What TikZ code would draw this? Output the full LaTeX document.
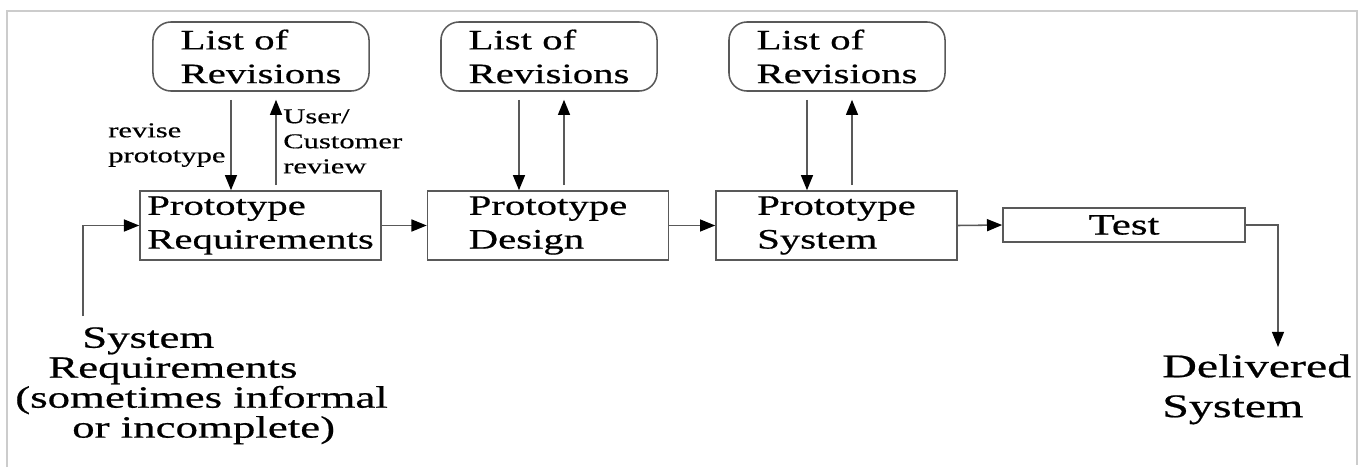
\documentclass[tikz,border=0pt]{standalone}
\usepackage{fontspec}
\setmainfont[FakeStretch=1.45, FakeBold=0.6]{Liberation Serif}
\usetikzlibrary{arrows.meta,calc}
\tikzset{
  revbox/.style ={draw=black!65, line width=1.1pt, rounded corners=0.45cm,
                  minimum width=5.4cm, minimum height=1.725cm, inner sep=0pt,
                  align=left, font=\fontsize{20}{24}\selectfont,
                  execute at begin node={\rule{0pt}{19pt}}},
  stepbox/.style={draw=black!65, line width=1.1pt,
                  minimum width=6.025cm, minimum height=1.725cm, inner sep=0pt,
                  align=left, font=\fontsize{20}{24}\selectfont,
                  execute at begin node={\rule{0pt}{17pt}}},
  testbox/.style={draw=black!65, line width=1.1pt,
                  minimum width=6.05cm, minimum height=0.85cm, inner sep=0pt,
                  font=\fontsize{21}{24}\selectfont},
  flow/.style   ={-{Triangle[length=0.38cm, width=0.3cm, color=black]},
                  line width=1.1pt, black!65},
  note/.style   ={inner sep=0pt, align=left, font=\fontsize{15}{17.8}\selectfont},
  endtext/.style={inner sep=0pt, align=left, font=\fontsize{22}{21.3}\selectfont},
  outtext/.style={inner sep=0pt, align=left, font=\fontsize{23.5}{28.4}\selectfont},
}

\begin{document}
\begin{tikzpicture}[x=0.025cm, y=-0.025cm]
  \useasboundingbox (0,0) rectangle (1361,467);
  \draw[black!20, line width=0.8pt] (7,467) -- (7,11) -- (1357,11) -- (1357,465);

  % ---- revision lists ------------------------------------------------------
  \node[revbox] (lor1) at (261,56.5) {List of\\Revisions};
  \node[revbox] (lor2) at (549,56.5) {List of\\Revisions};
  \node[revbox] (lor3) at (837,56.5) {List of\\Revisions};

  % ---- prototype steps -----------------------------------------------------
  \node[stepbox] (req)  at (260.5,225.5) {Prototype\\Requirements};
  \node[stepbox] (des)  at (548,225.5)   {Prototype\\Design};
  \node[stepbox] (sys)  at (836.5,225.5) {Prototype\\System};
  \node[testbox] (test) at (1124,225)    {Test};

  % ---- loops between steps and lists ---------------------------------------
  \foreach \rv/\st in {lor1/req, lor2/des, lor3/sys} {
    \draw[flow, shorten <=0.2cm]
      ([xshift=-0.75cm]\rv.south) -- ([xshift=-0.75cm]\rv.south |- \st.north);
    \draw[flow, shorten <=0.125cm, shorten >=0.2cm]
      ([xshift=0.375cm]\rv.south |- \st.north) -- ([xshift=0.375cm]\rv.south);
  }
  \node[note, anchor=north west] (revise) at (108,123) {revise\\prototype};
  \node[note, anchor=north west] (review) at (283,109) {User/\\Customer\\review};

  % ---- main flow -----------------------------------------------------------
  \draw[flow] (req) -- (des);
  \draw[flow] (des) -- (sys);
  \draw[flow] (sys.east) -- (test.west);

  \coordinate (feed) at (83,316);
  \draw[flow] (feed) |- (req.west);
  \node[endtext, anchor=north west] (sysreq) at (15,327)
    {\hspace*{47.6pt}System\\\hspace*{23.5pt}Requirements\\(sometimes informal\\\hspace*{40.5pt}or incomplete)};

  \coordinate (out) at (1278,347);
  \draw[flow] (test.east) -| (out);
  \node[outtext, anchor=north west] (deliv) at (1162,354) {Delivered\\System};
\end{tikzpicture}
\end{document}
